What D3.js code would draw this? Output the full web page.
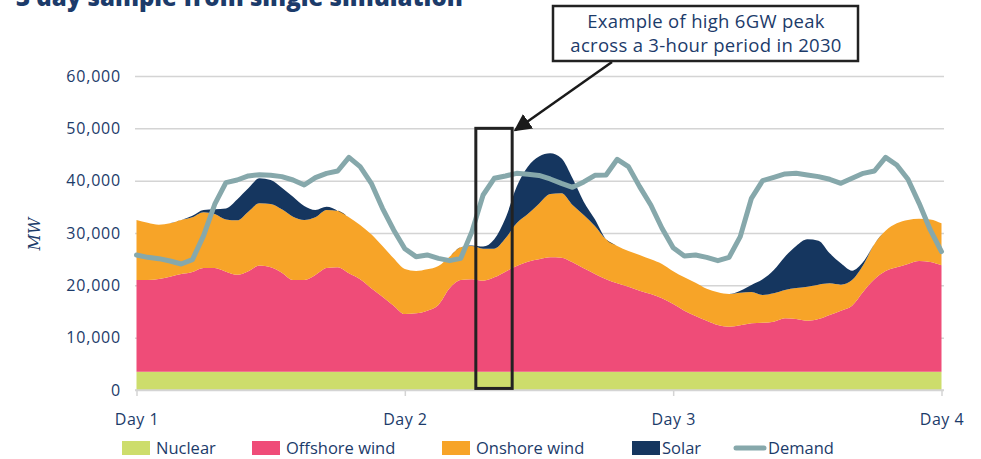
<!DOCTYPE html>
<html>
<head>
<meta charset="utf-8">
<script src="https://cdn.jsdelivr.net/npm/d3@7"></script>
<style>
  body { margin: 0; background: #fff; }
  svg { display: block; font-family: 'Open Sans', sans-serif; }
</style>
</head>
<body>
<div class="container"></div>
<script>
const w = 981;
const h = 459;

// hour index 0..72 (three days)
const hours = d3.range(0, 73);
const dayTicks = [0, 24, 48, 72];
const dayLabels = ['Day 1', 'Day 2', 'Day 3', 'Day 4'];
const yTicks = [0, 10000, 20000, 30000, 40000, 50000, 60000];

const seriesNames = ['Nuclear', 'Offshore wind', 'Onshore wind', 'Solar'];
const legendNames = ['Nuclear', 'Offshore wind', 'Onshore wind', 'Solar', 'Demand'];

// MW
const nuclear = hours.map(() => 3500);
const offshore = [17500, 17500, 17700, 18150, 18650, 19050, 19800, 19800, 19100, 18500, 19200, 20300,
    19940, 18920, 17520, 17520, 18480, 19810, 19940, 18790, 17650, 15930, 14340, 12620,
    11000, 11150, 11660, 12740, 15930, 17520, 17650, 17390, 18030, 19110, 20200, 21020,
    21500, 21850, 21790, 20900, 19750, 18670, 17650, 16880, 16250, 15480, 14850, 14020,
    12930, 11660, 10640, 9750, 8920, 8600, 8860, 9240, 9370, 9560, 10200, 10070,
    9750, 10070, 10830, 11660, 12620, 15290, 17650, 19240, 19940, 20580, 21150, 20960, 20320];
const onshore = [11490, 10970, 10400, 10200, 10340, 10450, 10650, 10330, 10000, 10420, 11380, 11870,
    12100, 12110, 12100, 11470, 11020, 11090, 10830, 10710, 10380, 10320, 9680, 9040,
    8600, 8090, 7900, 7460, 6050, 6240, 6370, 6120, 5480, 6370, 8150, 9110,
    10600, 12100, 12300, 10950, 10190, 9170, 7640, 7140, 6810, 6820, 6620, 6560,
    6270, 6370, 6370, 6110, 6250, 6250, 6240, 5990, 5280, 5420, 5410, 5920,
    6500, 6560, 6050, 4970, 4900, 5100, 6750, 7710, 8410, 8410, 8090, 8140, 8030];
const solar = [0, 0, 0, 0, 0, 300, 450, 900, 2100, 4000, 4460, 4780,
    4590, 4130, 3820, 2670, 1400, 600, 0, 0, 0, 0, 0, 0,
    0, 0, 0, 0, 0, 0, 100, 400, 1780, 3820, 7010, 9050,
    9000, 7780, 6680, 5100, 2550, 1280, 0, 0, 0, 0, 0, 0,
    0, 0, 0, 0, 0, 0, 380, 1340, 3000, 4450, 6370, 8030,
    9040, 8410, 5740, 4070, 1780, 600, 0, 0, 0, 0, 0, 0, 0];
const demand = [25800, 25350, 25100, 24650, 24080, 24900, 29500, 35500, 39620, 40130, 40900, 41150,
    41020, 40770, 40130, 39170, 40580, 41400, 41850, 44460, 42680, 39490, 34720, 30580,
    27000, 25480, 25800, 25160, 24720, 25160, 30260, 37260, 40450, 40900, 41400, 41210,
    41000, 40320, 39490, 38730, 39750, 41020, 41090, 44080, 42680, 38860, 35350, 30900,
    27200, 25610, 25800, 25350, 24720, 25350, 29300, 36630, 40000, 40640, 41280, 41400,
    41100, 40770, 40260, 39490, 40450, 41400, 41850, 44460, 43000, 40260, 35670, 30580, 26440];

// highlighted 3-hour window (hours, MW)
const peakWindow = { from: 30.35, to: 33.6, low: 300, high: 50000 };
const title = '3 day sample from single simulation';
const noteLines = ['Example of high 6GW peak', 'across a 3-hour period in 2030'];

const colors = {
    'Nuclear': '#cddd6c',
    'Offshore wind': '#ef4c78',
    'Onshore wind': '#f7a428',
    'Solar': '#15365f',
    'Demand': '#86a8ab'
};
const navy = '#1c3b6a';

const table = hours.map((hr, i) => ({
    hour: hr,
    'Nuclear': nuclear[i],
    'Offshore wind': offshore[i],
    'Onshore wind': onshore[i],
    'Solar': solar[i]
}));

const x = d3.scaleLinear().domain([0, 72]).range([136.5, 941.5]);
const y = d3.scaleLinear().domain([0, 60000]).range([390, 76]);

const svg = d3.select('.container')
    .append('svg')
    .attr('width', w)
    .attr('height', h)
    .attr('viewBox', [0, 0, w, h]);

// title, cut off at the top like the source
svg.append('text')
    .attr('x', 16)
    .attr('y', 6)
    .attr('fill', navy)
    .style('font-size', '24px')
    .style('font-weight', 800)
    .text(title);

// gridlines + y labels
svg.append('g')
    .attr('transform', 'translate(135,0)')
    .call(d3.axisLeft(y)
        .tickValues(yTicks)
        .tickFormat(d3.format(','))
        .tickSizeInner(-(944 - 135))
        .tickSizeOuter(0)
        .tickPadding(14))
    .call(g => g.select('.domain').remove())
    .call(g => g.selectAll('.tick line').attr('stroke', '#d4d4d4').attr('stroke-width', 1.5))
    .call(g => g.selectAll('.tick text')
        .attr('fill', navy)
        .style('font-size', '16px')
        .style('letter-spacing', '0.8px')
        .style('font-family', "'Open Sans', sans-serif"));

svg.append('text')
    .attr('transform', 'translate(40,234) rotate(-90)')
    .attr('text-anchor', 'middle')
    .attr('fill', navy)
    .style('font-family', "'DejaVu Serif', serif")
    .style('font-style', 'italic')
    .style('font-size', '16px')
    .text('MW');

// stacked areas
const stack = d3.stack().keys(seriesNames);
const layers = stack(table);
const area = d3.area()
    .x(d => x(d.data.hour))
    .y0(d => y(d[0]))
    .y1(d => y(d[1]))
    .curve(d3.curveMonotoneX);

svg.append('g')
    .selectAll('path')
    .data(layers)
    .join('path')
    .attr('fill', d => colors[d.key])
    .attr('d', area);

// x axis
svg.append('g')
    .attr('transform', 'translate(0,390)')
    .call(d3.axisBottom(x)
        .tickValues(dayTicks)
        .tickFormat((d, i) => dayLabels[i])
        .tickSizeInner(6)
        .tickSizeOuter(0)
        .tickPadding(18))
    .call(g => g.select('.domain').attr('stroke', '#d4d4d4').attr('stroke-width', 1.5)
        .attr('d', 'M135,0H944'))
    .call(g => g.selectAll('.tick line').attr('stroke', '#d4d4d4').attr('stroke-width', 1.5))
    .call(g => g.selectAll('.tick text')
        .attr('fill', navy)
        .style('font-size', '16px')
        .style('letter-spacing', '0.5px')
        .style('font-family', "'Open Sans', sans-serif"));

// demand line
const line = d3.line()
    .x((d, i) => x(hours[i]))
    .y(d => y(d));

svg.append('path')
    .datum(demand)
    .attr('fill', 'none')
    .attr('stroke', colors['Demand'])
    .attr('stroke-width', 5)
    .attr('stroke-linejoin', 'round')
    .attr('stroke-linecap', 'round')
    .attr('d', line);

// highlight box
svg.append('rect')
    .attr('x', x(peakWindow.from))
    .attr('y', y(peakWindow.high))
    .attr('width', x(peakWindow.to) - x(peakWindow.from))
    .attr('height', y(peakWindow.low) - y(peakWindow.high))
    .attr('fill', 'none')
    .attr('stroke', '#222')
    .attr('stroke-width', 3);

// annotation
svg.append('defs')
    .append('marker')
    .attr('id', 'arrow')
    .attr('viewBox', '0 0 10 10')
    .attr('refX', 9)
    .attr('refY', 5)
    .attr('markerWidth', 7)
    .attr('markerHeight', 7)
    .attr('markerUnits', 'strokeWidth')
    .attr('orient', 'auto')
    .append('path')
    .attr('d', 'M0,0L10,5L0,10z')
    .attr('fill', '#1a1a1a');

svg.append('line')
    .attr('x1', 612)
    .attr('y1', 62)
    .attr('x2', x(peakWindow.to) + 3)
    .attr('y2', y(peakWindow.high) + 2)
    .attr('stroke', '#1a1a1a')
    .attr('stroke-width', 2.5)
    .attr('marker-end', 'url(#arrow)');

svg.append('rect')
    .attr('x', 553)
    .attr('y', 6)
    .attr('width', 305)
    .attr('height', 55)
    .attr('fill', '#fff')
    .attr('stroke', '#222')
    .attr('stroke-width', 2.5);

svg.append('g')
    .selectAll('text')
    .data(noteLines)
    .join('text')
    .attr('x', 706)
    .attr('y', (d, i) => 28 + i * 24)
    .attr('text-anchor', 'middle')
    .attr('fill', navy)
    .style('font-size', '18.5px')
    .style('letter-spacing', '0.3px')
    .text(d => d);

// legend
const legendX = [122, 252, 442, 632, 734];
const legend = svg.append('g')
    .selectAll('g')
    .data(legendNames)
    .join('g')
    .attr('transform', (d, i) => `translate(${legendX[i]},448)`);

legend.filter(d => d !== 'Demand')
    .append('rect')
    .attr('x', 0)
    .attr('y', -7)
    .attr('width', 28)
    .attr('height', 14)
    .attr('fill', d => colors[d]);

legend.filter(d => d === 'Demand')
    .append('line')
    .attr('x1', 2)
    .attr('x2', 30)
    .attr('stroke', colors['Demand'])
    .attr('stroke-width', 5)
    .attr('stroke-linecap', 'round');

legend.append('text')
    .attr('x', (d, i) => i === 3 ? 30 : 34)
    .attr('y', 6)
    .attr('fill', navy)
    .style('font-size', '16.5px')
    .text(d => d);
</script>
</body>
</html>
